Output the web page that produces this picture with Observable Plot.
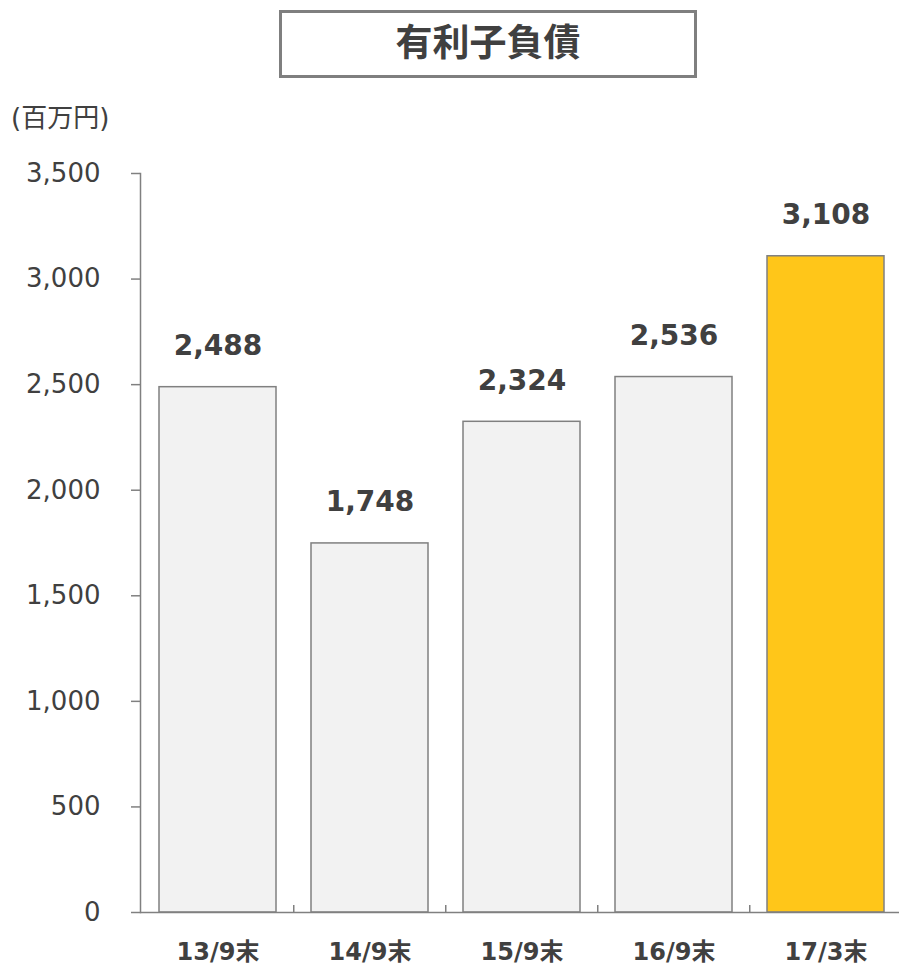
<!DOCTYPE html>
<html>
<head>
<meta charset="utf-8">
<script src="https://cdn.jsdelivr.net/npm/d3@7"></script>
<script src="https://cdn.jsdelivr.net/npm/@observablehq/plot@0.6"></script>
<style>
  html, body { margin: 0; padding: 0; background: #fff; }
  body { font-family: "DejaVu Sans", "Noto Sans CJK JP", sans-serif; }
  #wrap { position: relative; width: 899px; height: 966px; overflow: hidden; }
  #title {
    position: absolute; left: 279px; top: 10px; width: 412px; height: 62px;
    border: 3px solid #7f7f7f; box-sizing: content-box;
    display: flex; align-items: center; justify-content: center;
    font-size: 37px; font-weight: bold; color: #404040; line-height: 1;
    padding-bottom: 0; 
    font-family: "Noto Sans CJK JP", "DejaVu Sans", sans-serif;
  }
  #title span { position: relative; top: -4px; }
  #unit {
    position: absolute; left: 11px; top: 103px;
    font-size: 26px; color: #404040; line-height: 1.2;
    font-family: "DejaVu Sans", "Noto Sans CJK JP", sans-serif;
  }
  #chart { position: absolute; left: 0; top: 0; }
</style>
</head>
<body>
<div id="wrap">
  <div id="chart"></div>
  <div id="title"><span>有利子負債</span></div>
  <div id="unit">(百万円)</div>
</div>
<script>
const categories = ["13/9末", "14/9末", "15/9末", "16/9末", "17/3末"];
const values = [2488, 1748, 2324, 2536, 3108];
const highlight = [false, false, false, false, true];
const yTicks = [0, 500, 1000, 1500, 2000, 2500, 3000, 3500];

const data = categories.map((c, i) => ({cat: c, value: values[i], hl: highlight[i]}));
const fmt = d3.format(",");

const W = 899, H = 966;
const left = 140, right = 902.5;
const band = (right - left) / categories.length;

const chart = Plot.plot({
  width: W,
  height: H,
  marginTop: 173,
  marginBottom: 54,
  marginLeft: 140,
  marginRight: 0,
  style: {fontFamily: '"DejaVu Sans", "Noto Sans CJK JP", sans-serif', color: "#404040", background: "transparent"},
  x: {domain: categories, range: [left, right], paddingInner: 0.23, paddingOuter: 0.115, label: null},
  y: {domain: [0, 3500], label: null},
  marks: [
    Plot.barY(data, {
      x: "cat", y: "value",
      fill: d => d.hl ? "#ffc619" : "#f2f2f2",
      stroke: "#808080", strokeWidth: 1.5
    }),
    Plot.frame({anchor: "left", stroke: "#808080", strokeWidth: 1.5}),
    Plot.ruleY([0], {stroke: "#808080", strokeWidth: 1.5}),
    Plot.ruleX(categories.slice(1), {
      x: d => d, dx: -band / 2, y1: 0, y2: 33,
      stroke: "#808080", strokeWidth: 1.5
    }),
    Plot.axisY({
      ticks: yTicks, tickFormat: fmt, tickSize: 9, tickPadding: 31,
      fontSize: 26, stroke: "#808080", strokeWidth: 1.5, fill: "#404040"
    }),
    Plot.axisX({
      tickSize: 0, tickPadding: 30, fontSize: 24, fontWeight: "bold", fill: "#404040"
    }),
    Plot.text(data, {
      x: "cat", y: "value", text: d => fmt(d.value),
      dy: -41, fontSize: 28, fontWeight: "bold", fill: "#404040"
    })
  ]
});
document.getElementById("chart").appendChild(chart);
</script>
</body>
</html>
